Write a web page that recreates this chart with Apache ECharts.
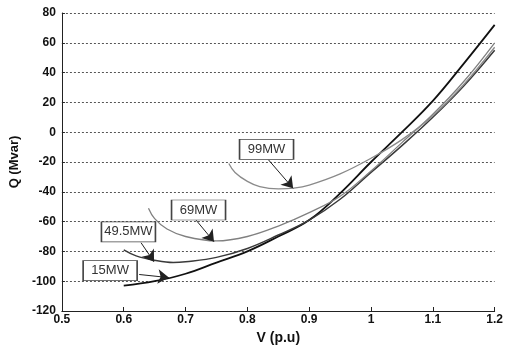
<!DOCTYPE html>
<html><head><meta charset="utf-8">
<script src="https://cdn.jsdelivr.net/npm/echarts@6/dist/echarts.min.js"></script>
<style>html,body{margin:0;padding:0;background:#fff}#c{width:506px;height:350px}</style>
</head><body><div id="c"></div>
<script>
// Data
const seriesNames = ['15MW', '49.5MW', '69MW', '99MW'];
const v15 = [0.6, 0.65, 0.7, 0.75, 0.8, 0.85, 0.9, 0.95, 1.0, 1.05, 1.1, 1.15, 1.2];
const q15 = [-103, -100, -95, -87.5, -80, -70, -59, -41, -20, 0, 21, 46, 72];
const v49 = [0.6, 0.62, 0.65, 0.68, 0.7, 0.75, 0.8, 0.85, 0.9, 0.95, 1.0, 1.05, 1.1, 1.15, 1.2];
const q49 = [-79, -83, -86, -87.5, -87, -84, -78, -69, -59, -45, -27, -9, 10, 31, 55];
const v69 = [0.64, 0.65, 0.67, 0.7, 0.75, 0.8, 0.85, 0.9, 0.95, 1.0, 1.05, 1.1, 1.15, 1.2];
const q69 = [-51, -58, -65, -70, -73, -70, -63, -54, -43, -26, -7, 12, 34, 60];
const v99 = [0.77, 0.78, 0.8, 0.82, 0.85, 0.875, 0.9, 0.95, 1.0, 1.05, 1.1, 1.15, 1.2];
const q99 = [-21, -27, -33, -36.5, -38, -37.5, -35.5, -28, -17.5, -5, 11, 32, 57];
// Annotation label box centres and arrow [from, to] in data units
const labelPos = [[0.578, -92.9], [0.6076, -66.9], [0.721, -52.2], [0.831, -11.5]];
const arrowFrom = [[0.625, -95.5], [0.628, -74.2], [0.717, -59], [0.834, -18.5]];
const arrowTo = [[0.673, -97.6], [0.649, -87], [0.746, -73.5], [0.874, -37.7]];
const xTicks = [0.5, 0.6, 0.7, 0.8, 0.9, 1, 1.1, 1.2];

const vs = [v15, v49, v69, v99];
const qs = [q15, q49, q69, q99];
const colors = ['#111111', '#3a3a3a', '#808080', '#8a8a8a'];
const widths = [1.8, 1.5, 1.3, 1.3];
const boxW = [54, 54, 54, 54];

const series = seriesNames.map((name, i) => ({
  name: name,
  type: 'line',
  smooth: 0.4,
  showSymbol: false,
  silent: true,
  data: vs[i].map((v, k) => [v, qs[i][k]]),
  lineStyle: { color: colors[i], width: widths[i] },
  markLine: {
    silent: true,
    symbol: ['none', 'arrow'],
    symbolSize: 11,
    label: { show: false },
    itemStyle: { color: '#111' },
    lineStyle: { color: '#222', width: 1, type: 'solid' },
    data: [[{ coord: arrowFrom[i] }, { coord: arrowTo[i] }]]
  },
  markPoint: {
    silent: true,
    symbol: 'rect',
    symbolSize: [boxW[i], 20],
    itemStyle: { color: '#fff', borderColor: '#444', borderWidth: 1 },
    label: {
      show: true, position: 'inside', formatter: name,
      color: '#333', fontSize: 13, fontFamily: 'Liberation Sans, Arial, sans-serif'
    },
    data: [{ coord: labelPos[i] }]
  },
  z: 2
}));

const chart = echarts.init(document.getElementById('c'), null, { renderer: 'canvas' });
chart.setOption({
  animation: false,
  backgroundColor: '#fff',
  grid: { left: 60, right: 10, top: 13, bottom: 37, containLabel: false },
  xAxis: {
    type: 'value', min: 0.5, max: 1.2, interval: 0.1,
    name: 'V (p.u)', nameLocation: 'middle', nameGap: 20,
    nameTextStyle: { fontSize: 14, fontWeight: 'bold', color: '#111', fontFamily: 'Liberation Sans, Arial, sans-serif' },
    axisLine: { show: true, onZero: false, lineStyle: { color: '#222', width: 1 } },
    axisTick: { show: true, inside: true, length: 4, lineStyle: { color: '#222' } },
    axisLabel: {
      margin: 3, fontSize: 12, fontWeight: 'bold', color: '#111',
      fontFamily: 'Liberation Sans, Arial, sans-serif',
      formatter: v => { const t = xTicks.find(x => Math.abs(x - v) < 1e-6); return t === undefined ? '' : String(t); }
    },
    splitLine: { show: false }
  },
  yAxis: {
    type: 'value', min: -120, max: 80, interval: 20,
    name: 'Q (Mvar)', nameLocation: 'middle', nameGap: 35, nameRotate: 90,
    nameTextStyle: { fontSize: 13, fontWeight: 'bold', color: '#111', fontFamily: 'Liberation Sans, Arial, sans-serif' },
    axisLine: { show: true, onZero: false, lineStyle: { color: '#222', width: 1 } },
    axisTick: { show: true, inside: true, length: 3, lineStyle: { color: '#222' } },
    axisLabel: {
      margin: 6, fontSize: 12, fontWeight: 'bold', color: '#111',
      fontFamily: 'Liberation Sans, Arial, sans-serif'
    },
    splitLine: { show: true, lineStyle: { color: '#555', width: 1, type: [2, 2] } }
  },
  series: series
});
</script></body></html>
